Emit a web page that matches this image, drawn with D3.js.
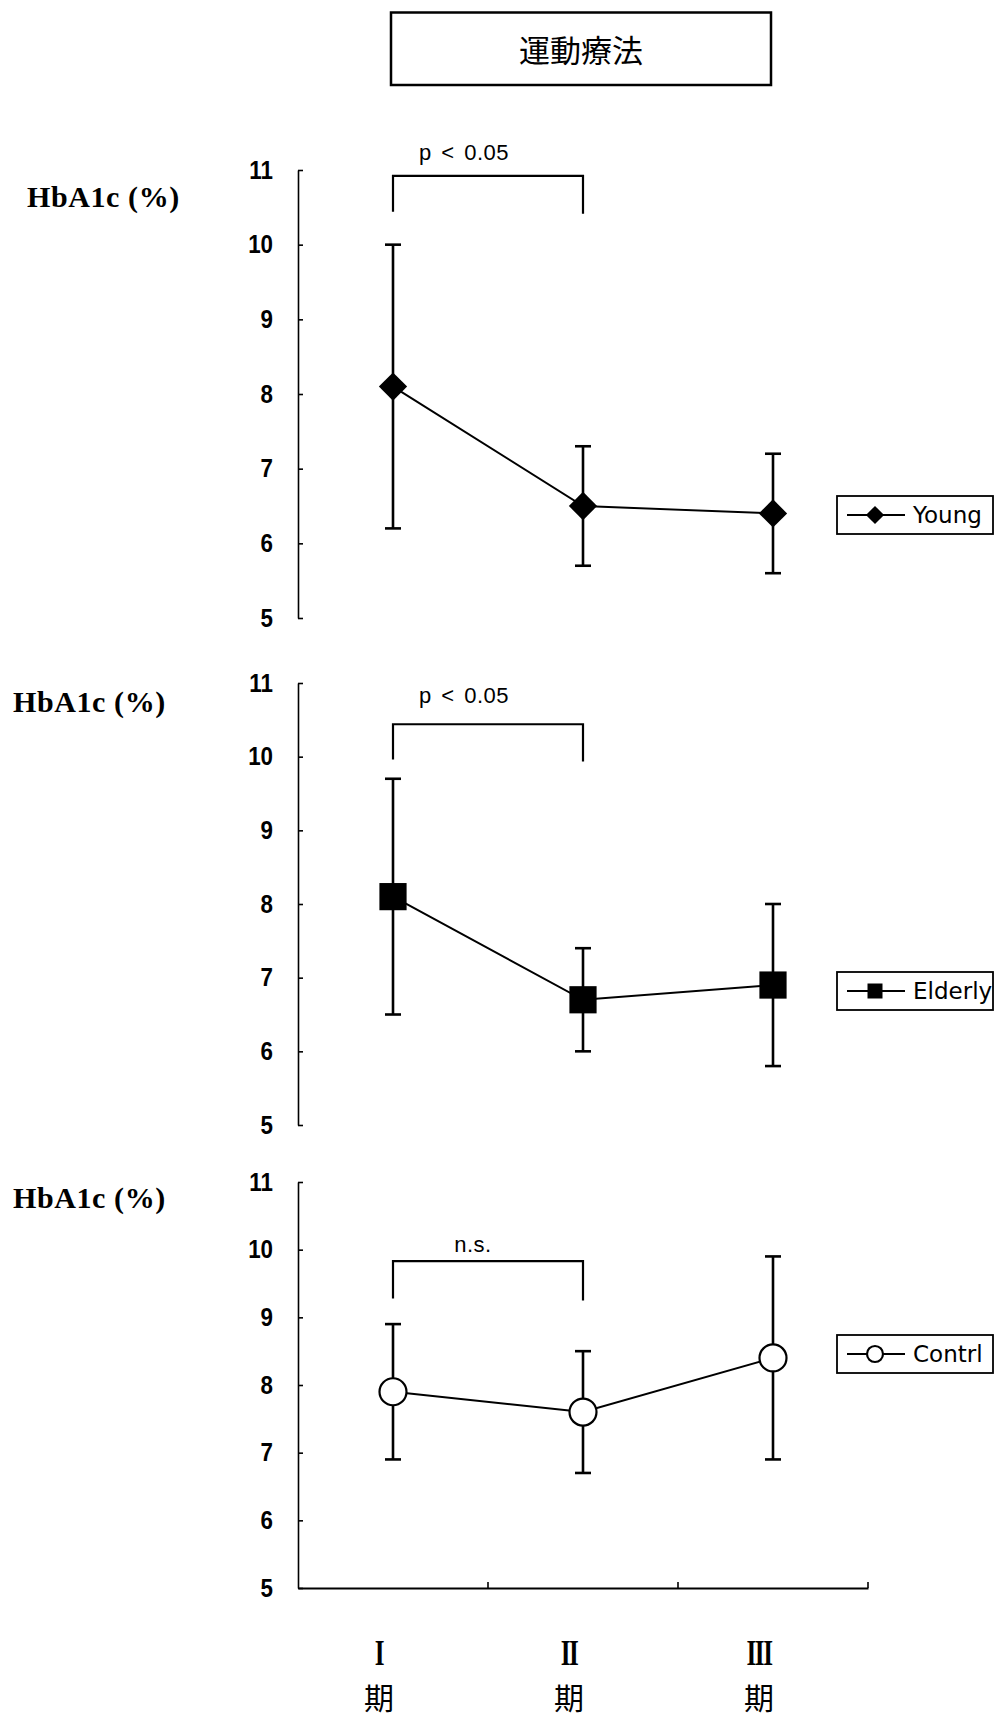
<!DOCTYPE html>
<html>
<head>
<meta charset="utf-8">
<script src="https://cdn.jsdelivr.net/npm/d3@7"></script>
<style>
  html, body { margin: 0; padding: 0; background: #fff; }
  svg { display: block; }
</style>
</head>
<body>
<svg id="chart" width="998" height="1721"></svg>
<script>
// ---------- data ----------
const titleText = "運動療法";
const categories = ["I", "II", "III"];
const xLabelNumerals = ["I", "II", "III"];
const xLabelSuffix = ["期", "期", "期"];
const yTicks = [5, 6, 7, 8, 9, 10, 11];
const yLabel = "HbA1c (%)";

const seriesNames = ["Young", "Elderly", "Contrl"];
const youngMean = [8.1, 6.5, 6.4];
const youngSD = [1.9, 0.8, 0.8];
const elderlyMean = [8.1, 6.7, 6.9];
const elderlySD = [1.6, 0.7, 1.1];
const controlMean = [7.9, 7.6, 8.4];
const controlSD = [1.0, 0.9, 1.5];

const compareLabels = ["p < 0.05", "p < 0.05", "n.s."];
const bracketTopValue = [10.92, 10.44, 9.83];
const bracketLegValue = [10.44, 9.96, 9.28];

// ---------- layout ----------
const svg = d3.select("#chart");
svg.append("rect").attr("width", 998).attr("height", 1721).attr("fill", "#fff");

const X0 = 298, X1 = 868;
const x = d3.scaleBand().domain(categories).range([X0, X1]).padding(0);
const cx = c => x(c) + x.bandwidth() / 2;

const panels = [
  { top: 170, bottom: 618, mean: youngMean, sd: youngSD, marker: "diamond",
    labelX: 27, labelY: 207, legendY: 515, textY: 160 },
  { top: 683, bottom: 1125, mean: elderlyMean, sd: elderlySD, marker: "square",
    labelX: 13, labelY: 712, legendY: 991, textY: 703 },
  { top: 1182, bottom: 1588, mean: controlMean, sd: controlSD, marker: "circle",
    labelX: 13, labelY: 1208, legendY: 1354, textY: 1252 }
];

// title box
svg.append("rect").attr("x", 391).attr("y", 12.5).attr("width", 380).attr("height", 72.5)
  .attr("fill", "none").attr("stroke", "#000").attr("stroke-width", 2.5);
svg.append("text").attr("x", 581).attr("y", 48).attr("text-anchor", "middle")
  .attr("dominant-baseline", "central")
  .attr("font-family", "'Noto Sans CJK JP', sans-serif").attr("font-size", 31)
  .text(titleText);

function drawMarker(g, type, px, py, big) {
  if (type === "diamond") {
    g.append("path").attr("d", d3.symbol(d3.symbolSquare, big ? 400 : 165)())
      .attr("transform", `translate(${px},${py}) rotate(45)`).attr("fill", "#000");
  } else if (type === "square") {
    g.append("path").attr("d", d3.symbol(d3.symbolSquare, big ? 740 : 225)())
      .attr("transform", `translate(${px},${py})`).attr("fill", "#000");
  } else {
    g.append("circle").attr("cx", px).attr("cy", py).attr("r", big ? 13.5 : 8)
      .attr("fill", "#fff").attr("stroke", "#000").attr("stroke-width", 2.2);
  }
}

const tickScaleX = 0.86;

panels.forEach((p, i) => {
  const g = svg.append("g");
  const y = d3.scaleLinear().domain([5, 11]).range([p.bottom, p.top]);

  // y label
  g.append("text").attr("x", p.labelX).attr("y", p.labelY)
    .attr("font-family", "'Liberation Serif', 'Times New Roman', serif")
    .attr("font-weight", "bold").attr("font-size", 30).attr("letter-spacing", 0.6)
    .text(yLabel);

  // y axis
  const ay = d3.axisLeft(y).tickValues(yTicks).tickSizeInner(-5).tickSizeOuter(0)
    .tickPadding(25).tickFormat(d3.format("d"));
  const gy = g.append("g").attr("transform", `translate(${X0},0)`).call(ay);
  gy.select(".domain").attr("stroke-width", 1.6);
  gy.selectAll(".tick line").attr("stroke-width", 1.6);
  gy.attr("font-family", "'Liberation Sans', Arial, sans-serif").attr("font-size", 26)
    .attr("font-weight", "bold");
  gy.selectAll(".tick text")
    .attr("x", -25 / tickScaleX)
    .attr("transform", `scale(${tickScaleX},1)`)
    .attr("fill", "#000");

  // x axis on last panel
  if (i === panels.length - 1) {
    const ax = d3.axisBottom(x).tickSize(0).tickSizeOuter(0).tickFormat("");
    const gx = g.append("g").attr("transform", `translate(0,${p.bottom})`).call(ax);
    gx.select(".domain").attr("stroke-width", 2);
    g.selectAll(".xb").data(categories).enter().append("line")
      .attr("x1", c => x(c) + x.bandwidth()).attr("x2", c => x(c) + x.bandwidth())
      .attr("y1", p.bottom).attr("y2", p.bottom - 6)
      .attr("stroke", "#000").attr("stroke-width", 1.6);

    // category labels
    categories.forEach((c, k) => {
      const lx = cx(c) - 14;
      g.append("text")
        .attr("transform", `translate(${lx},1665) scale(0.72,1)`)
        .attr("text-anchor", "middle")
        .attr("font-family", "'Liberation Serif', 'Times New Roman', serif")
        .attr("font-weight", "bold").attr("font-size", 35).attr("letter-spacing", -2)
        .text(xLabelNumerals[k]);
      g.append("text").attr("x", lx).attr("y", 1709).attr("text-anchor", "middle")
        .attr("font-family", "'Noto Sans CJK JP', sans-serif").attr("font-size", 30)
        .text(xLabelSuffix[k]);
    });
  }

  // significance bracket
  const bx1 = cx(categories[0]), bx2 = cx(categories[1]);
  g.append("path")
    .attr("d", `M${bx1},${y(bracketLegValue[i])}V${y(bracketTopValue[i])}H${bx2}V${y(bracketLegValue[i]) + 2}`)
    .attr("fill", "none").attr("stroke", "#000").attr("stroke-width", 2.2);
  g.append("text").attr("x", (bx1 + bx2) / 2 + (i === 2 ? -15 : -24)).attr("y", p.textY)
    .attr("text-anchor", "middle")
    .attr("font-family", "'Liberation Sans', Arial, sans-serif").attr("font-size", 22)
    .attr("letter-spacing", 0.5).attr("word-spacing", 3)
    .text(compareLabels[i]);

  // error bars
  categories.forEach((c, k) => {
    const hi = y(p.mean[k] + p.sd[k]), lo = y(p.mean[k] - p.sd[k]);
    g.append("line").attr("x1", cx(c)).attr("x2", cx(c)).attr("y1", hi).attr("y2", lo)
      .attr("stroke", "#000").attr("stroke-width", 2.6);
    [hi, lo].forEach(yy => {
      g.append("line").attr("x1", cx(c) - 8).attr("x2", cx(c) + 8).attr("y1", yy).attr("y2", yy)
        .attr("stroke", "#000").attr("stroke-width", 2.6);
    });
  });

  // connecting line
  const line = d3.line().x((d, k) => cx(categories[k])).y(d => y(d));
  g.append("path").attr("d", line(p.mean)).attr("fill", "none")
    .attr("stroke", "#000").attr("stroke-width", 2);

  // markers
  categories.forEach((c, k) => drawMarker(g, p.marker, cx(c), y(p.mean[k]), true));

  // legend
  const lgX = 837, lgW = 156, lgH = 38;
  const lg = g.append("g");
  lg.append("rect").attr("x", lgX).attr("y", p.legendY - lgH / 2).attr("width", lgW).attr("height", lgH)
    .attr("fill", "#fff").attr("stroke", "#000").attr("stroke-width", 1.8);
  lg.append("line").attr("x1", lgX + 10).attr("x2", lgX + 68)
    .attr("y1", p.legendY).attr("y2", p.legendY).attr("stroke", "#000").attr("stroke-width", 2);
  drawMarker(lg, p.marker, lgX + 38, p.legendY, false);
  lg.append("text").attr("x", lgX + 76).attr("y", p.legendY + 8)
    .attr("font-family", "'DejaVu Sans', sans-serif").attr("font-size", 23)
    .text(seriesNames[i]);
});
</script>
</body>
</html>
